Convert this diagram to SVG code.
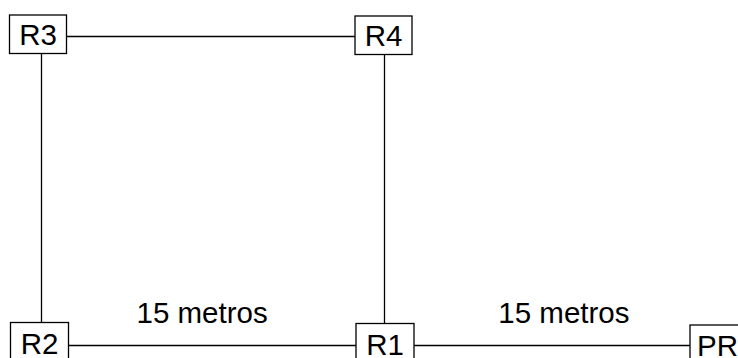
<svg xmlns="http://www.w3.org/2000/svg" width="738" height="358" viewBox="0 0 738 358">
<style>
.box{fill:#fff;stroke:#000;stroke-width:1.3}
.lbl{font-family:"Liberation Sans",Arial,sans-serif;font-size:29.5px;fill:#000}
.ln{stroke:#000;stroke-width:1.3;fill:none}
</style>
<rect width="738" height="358" fill="#fff"/>
<g id="connectors">
<line class="ln" x1="66.5" y1="36.5" x2="355" y2="36.5"/>
<line class="ln" x1="41.5" y1="53.5" x2="41.5" y2="322.5"/>
<line class="ln" x1="384.5" y1="54.5" x2="384.5" y2="323.5"/>
<line class="ln" x1="68.5" y1="345.5" x2="356" y2="345.5"/>
<line class="ln" x1="414" y1="345.5" x2="690" y2="345.5"/>
</g>
<g id="R3"><rect class="box" x="9.5" y="15" width="57" height="38.5"/><text class="lbl" x="38" y="45" text-anchor="middle">R3</text></g>
<g id="R4"><rect class="box" x="355" y="16" width="57" height="38.5"/><text class="lbl" x="383.5" y="46" text-anchor="middle">R4</text></g>
<g id="R2"><rect class="box" x="10.5" y="322.5" width="58" height="40"/><text class="lbl" x="39.5" y="353.5" text-anchor="middle">R2</text></g>
<g id="R1"><rect class="box" x="356" y="323.5" width="58" height="40"/><text class="lbl" x="385" y="354.5" text-anchor="middle">R1</text></g>
<g id="PR"><rect class="box" x="690" y="325" width="60" height="40"/><text class="lbl" x="697" y="356">PR</text></g>
<g id="labels">
<text class="lbl" x="136.5" y="323.3">15 metros</text>
<text class="lbl" x="498.3" y="323.3">15 metros</text>
</g>
</svg>
